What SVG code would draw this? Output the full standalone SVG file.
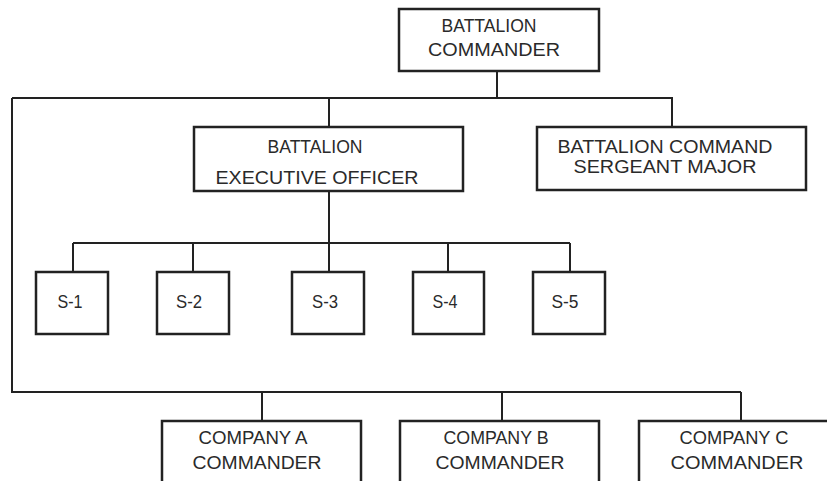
<svg xmlns="http://www.w3.org/2000/svg" width="827" height="481" viewBox="0 0 827 481">
<style>
.box{fill:#fff;stroke:#222;stroke-width:2.5}
.ln{fill:none;stroke:#222;stroke-width:2}
text{font-family:"Liberation Sans",Arial,sans-serif;font-size:19px;fill:#2a2a2a;text-anchor:middle}
</style>
<rect width="827" height="481" fill="#fff"/>
<g id="connectors">
<path class="ln" d="M497,71 V98 M12,98 H672 V127 M329,98 V127 M329,191 V272 M73,243 H570 M73,243 V272 M193,243 V272 M448,243 V272 M570,243 V272 M12,98 V392 H741 M262,392 V421 M502,392 V421 M741,392 V421"/>
</g>
<g id="bn-cdr"><rect class="box" x="399" y="9" width="200" height="62"/><text x="489" y="32" textLength="95" lengthAdjust="spacingAndGlyphs">BATTALION</text><text x="494" y="56" textLength="132" lengthAdjust="spacingAndGlyphs">COMMANDER</text></g>
<g id="xo"><rect class="box" x="194" y="127" width="269" height="64"/><text x="315" y="153" textLength="95" lengthAdjust="spacingAndGlyphs">BATTALION</text><text x="317" y="184" textLength="203" lengthAdjust="spacingAndGlyphs">EXECUTIVE OFFICER</text></g>
<g id="csm"><rect class="box" x="537" y="127" width="269" height="63"/><text x="665" y="153" textLength="215" lengthAdjust="spacingAndGlyphs">BATTALION COMMAND</text><text x="665" y="173" textLength="183" lengthAdjust="spacingAndGlyphs">SERGEANT MAJOR</text></g>
<g id="s1"><rect class="box" x="36" y="272" width="72" height="62"/><text x="70" y="308" textLength="25" lengthAdjust="spacingAndGlyphs">S-1</text></g>
<g id="s2"><rect class="box" x="157" y="272" width="72" height="62"/><text x="189" y="308" textLength="26" lengthAdjust="spacingAndGlyphs">S-2</text></g>
<g id="s3"><rect class="box" x="292" y="272" width="72" height="62"/><text x="325" y="308" textLength="26" lengthAdjust="spacingAndGlyphs">S-3</text></g>
<g id="s4"><rect class="box" x="413" y="272" width="71" height="62"/><text x="445" y="308" textLength="25" lengthAdjust="spacingAndGlyphs">S-4</text></g>
<g id="s5"><rect class="box" x="533" y="272" width="72" height="62"/><text x="565" y="308" textLength="27" lengthAdjust="spacingAndGlyphs">S-5</text></g>
<g id="coa"><rect class="box" x="162" y="421" width="199" height="70"/><text x="253" y="444" textLength="109" lengthAdjust="spacingAndGlyphs">COMPANY A</text><text x="257" y="469" textLength="129" lengthAdjust="spacingAndGlyphs">COMMANDER</text></g>
<g id="cob"><rect class="box" x="400" y="421" width="199" height="70"/><text x="496" y="444" textLength="105" lengthAdjust="spacingAndGlyphs">COMPANY B</text><text x="500" y="469" textLength="129" lengthAdjust="spacingAndGlyphs">COMMANDER</text></g>
<g id="coc"><rect class="box" x="639" y="421" width="199" height="70"/><text x="734" y="444" textLength="109" lengthAdjust="spacingAndGlyphs">COMPANY C</text><text x="737" y="469" textLength="133" lengthAdjust="spacingAndGlyphs">COMMANDER</text></g>
</svg>
